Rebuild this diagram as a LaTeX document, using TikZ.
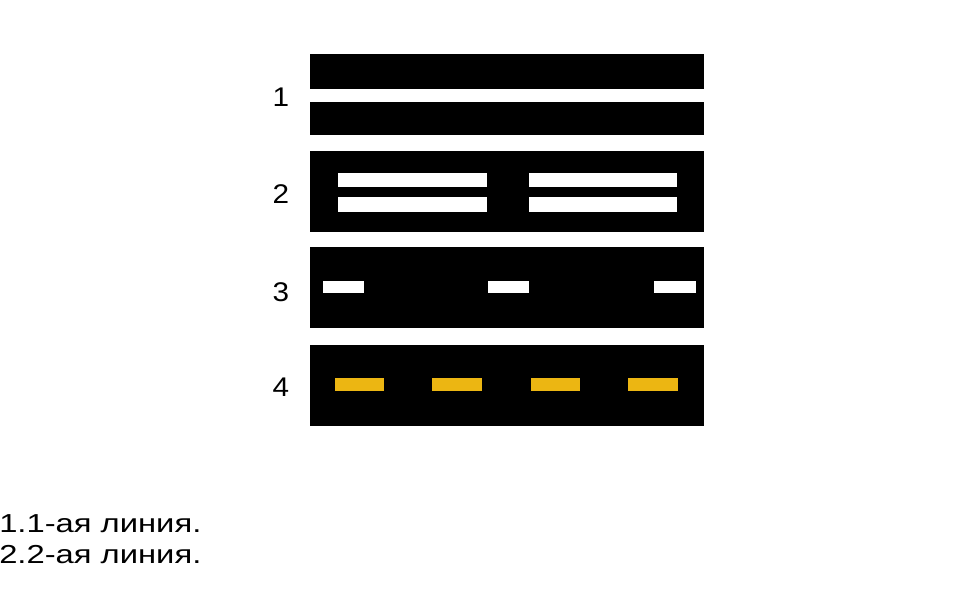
\documentclass[tikz,border=0pt]{standalone}
\usepackage{fontspec}
\setmainfont{Liberation Sans}
\definecolor{markyellow}{RGB}{236,182,18}
\begin{document}
\begin{tikzpicture}[x=1pt,y=-1pt,
  road/.style={fill=black},
  wmark/.style={fill=white},
  ymark/.style={fill=markyellow},
  num/.style={font=\fontsize{27}{32}\selectfont, anchor=base, inner sep=0pt, xscale=1.1},
  legend/.style={font=\fontsize{26}{31}\selectfont, anchor=base west, inner sep=0pt, xscale=1.26}]
\useasboundingbox (0,0) rectangle (975,592);
% row 1
\fill[road] (310,54) rectangle (704,89);
\fill[road] (310,102) rectangle (704,135);
% row 2
\fill[road] (310,151) rectangle (704,232);
\fill[wmark] (338,173) rectangle (487,187);
\fill[wmark] (338,197) rectangle (487,212);
\fill[wmark] (529,173) rectangle (677,187);
\fill[wmark] (529,197) rectangle (677,212);
% row 3
\fill[road] (310,247) rectangle (704,328);
\fill[wmark] (323,281) rectangle (364,293);
\fill[wmark] (488,281) rectangle (529,293);
\fill[wmark] (654,281) rectangle (696,293);
% row 4
\fill[road] (310,345) rectangle (704,426);
\fill[ymark] (335,378) rectangle (384,391);
\fill[ymark] (432,378) rectangle (482,391);
\fill[ymark] (531,378) rectangle (580,391);
\fill[ymark] (628,378) rectangle (678,391);
% numbers
\node[num] (n1) at (281,106) {1};
\node[num] (n2) at (281,203) {2};
\node[num] (n3) at (281,301) {3};
\node[num] (n4) at (281,396) {4};
% legend
\node[legend] (l1) at (-1,532) {1.1-ая линия.};
\node[legend] (l2) at (-1,563) {2.2-ая линия.};
\end{tikzpicture}
\end{document}
